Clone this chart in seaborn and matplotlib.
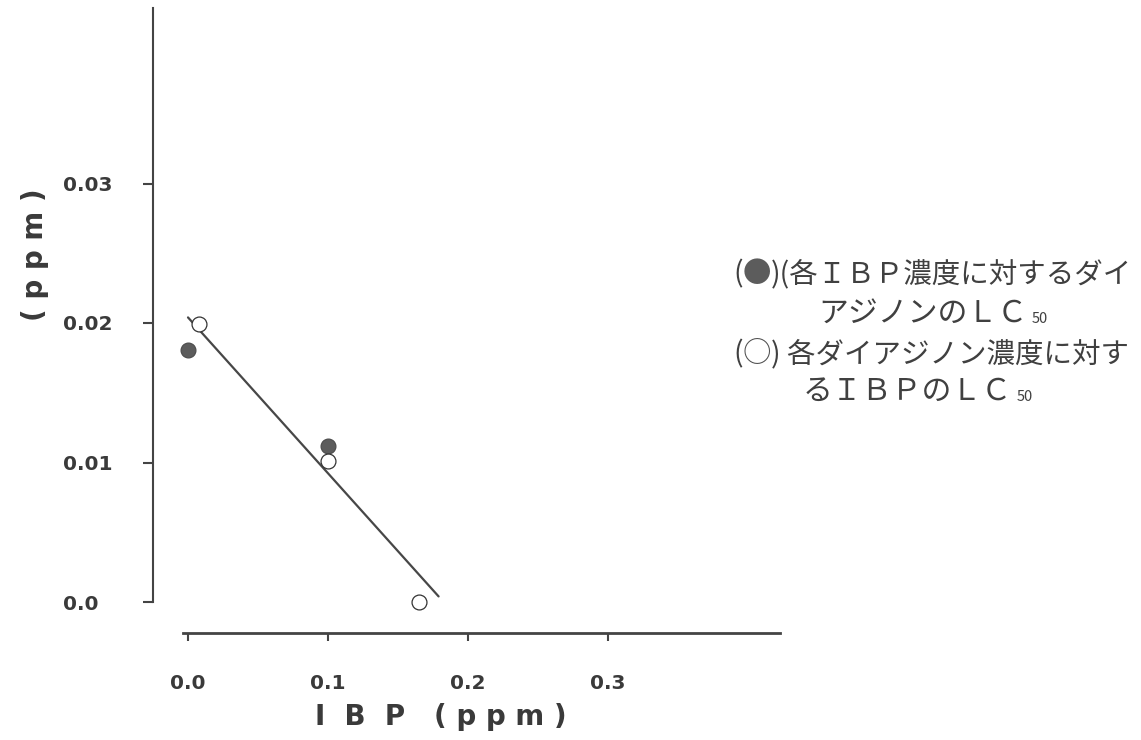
import matplotlib
matplotlib.use("Agg")
import matplotlib.pyplot as plt
import seaborn as sns
import pandas as pd

# ---- data ----
filled_x = [0.0, 0.10]
filled_y = [0.0181, 0.0112]
open_x = [0.008, 0.10, 0.165]
open_y = [0.0199, 0.0101, 0.0]
line_x = [0.0, 0.179]
line_y = [0.0204, 0.0004]

x_ticks = [0.0, 0.1, 0.2, 0.3]
x_ticklabels = ["0.0", "0.1", "0.2", "0.3"]
y_ticks = [0.0, 0.01, 0.02, 0.03]
y_ticklabels = ["0.0", "0.01", "0.02", "0.03"]

x_label = "I  B  P   ( p p m )"
y_label = "( p p m )"
legend_filled = ["(", "●", ")(各ＩＢＰ濃度に対するダイ", "アジノンのＬＣ", "50"]
legend_open = ["(", "○", ") 各ダイアジノン濃度に対す", "るＩＢＰのＬＣ", "50"]

sns.set_theme(style="ticks")
plt.rcParams["font.family"] = ["DejaVu Sans", "Noto Sans CJK JP"]

W, H = 1141, 740
fig = plt.figure(figsize=(W / 100, H / 100), dpi=100)
ax = fig.add_axes([153 / W, 1 - 633 / H, (780 - 153) / W, (633 - 8) / H])

ink = "#3a3a3a"
fill_grey = "#5c5c5c"

df_line = pd.DataFrame({"x": line_x, "y": line_y})
sns.lineplot(data=df_line, x="x", y="y", ax=ax, color="#474747", linewidth=1.6, zorder=2)

df_f = pd.DataFrame({"x": filled_x, "y": filled_y})
sns.scatterplot(data=df_f, x="x", y="y", ax=ax, s=115, color=fill_grey,
                edgecolor="#4a4a4a", linewidth=0.8, zorder=3)
df_o = pd.DataFrame({"x": open_x, "y": open_y})
sns.scatterplot(data=df_o, x="x", y="y", ax=ax, s=115, color="white",
                edgecolor="#333333", linewidth=0.9, zorder=3)

ax.set_xlim((153 - 188) / 1400, (780 - 188) / 1400)
ax.set_ylim((602 - 633) / 13950, (602 - 8) / 13950)

for s in ["top", "right"]:
    ax.spines[s].set_visible(False)
ax.spines["left"].set_bounds(0.0, (602 - 8) / 13950)
ax.spines["bottom"].set_bounds((183 - 188) / 1400, (780 - 188) / 1400)
ax.spines["left"].set_color("#444444")
ax.spines["bottom"].set_color("#444444")
ax.spines["left"].set_linewidth(1.5)
ax.spines["bottom"].set_linewidth(2.0)

ax.set_xticks(x_ticks)
ax.set_xticklabels(x_ticklabels)
ax.set_yticks(y_ticks)
ax.set_yticklabels(y_ticklabels)
ax.tick_params(axis="x", direction="out", length=5.5, width=1.5, color="#444444",
               pad=24, labelsize=14.5, labelcolor=ink)
ax.tick_params(axis="y", direction="out", length=7, width=1.5, color="#444444",
               pad=58, labelsize=14.5, labelcolor=ink)
for t in ax.get_xticklabels() + ax.get_yticklabels():
    t.set_fontweight("bold")
for t in ax.get_yticklabels():
    t.set_horizontalalignment("left")

ax.set_xlabel(x_label, fontsize=20, fontweight="bold", color=ink)
ax.xaxis.set_label_coords((441 - 153) / 627, (633 - 703) / 625)
ax.set_ylabel(y_label, fontsize=20, fontweight="bold", color=ink)
ax.yaxis.label.set_verticalalignment("center")
ax.yaxis.set_label_coords((35 - 153) / 627, (633 - 255) / 625)

# ---- legend text block ----
jp = dict(family=["Noto Sans CJK JP", "DejaVu Sans"], fontsize=20.5, color="#404040",
          annotation_clip=False)

def chain(parts, x0, yc, x2=None, yc2=None):
    a = ax.annotate(parts[0], xy=(x0 / W, 1 - yc / H), xycoords="figure fraction",
                    va="center", ha="left", **jp)
    kw = dict(jp)
    kw["color"] = fill_grey if parts[1] == "●" else "#505050"
    b = ax.annotate(parts[1], xy=(1, 0), xycoords=a, va="bottom", ha="left", **kw)
    c = ax.annotate(parts[2], xy=(1, 0), xycoords=b, va="bottom", ha="left", **jp)
    kw1 = dict(jp)
    kw1["fontsize"] = 21.5
    d = ax.annotate(parts[3], xy=(x2 / W, 1 - yc2 / H), xycoords="figure fraction",
                    va="center", ha="left", **kw1)
    kw2 = dict(jp)
    kw2["fontsize"] = 10.5
    ax.annotate(parts[4], xy=(1, 0), xycoords=d, xytext=(3, 2), textcoords="offset points",
                va="bottom", ha="left", **kw2)

chain(legend_filled, 733, 274, 818, 313)
chain(legend_open, 733, 354, 803, 391)

fig.savefig("out.png", dpi=100)
